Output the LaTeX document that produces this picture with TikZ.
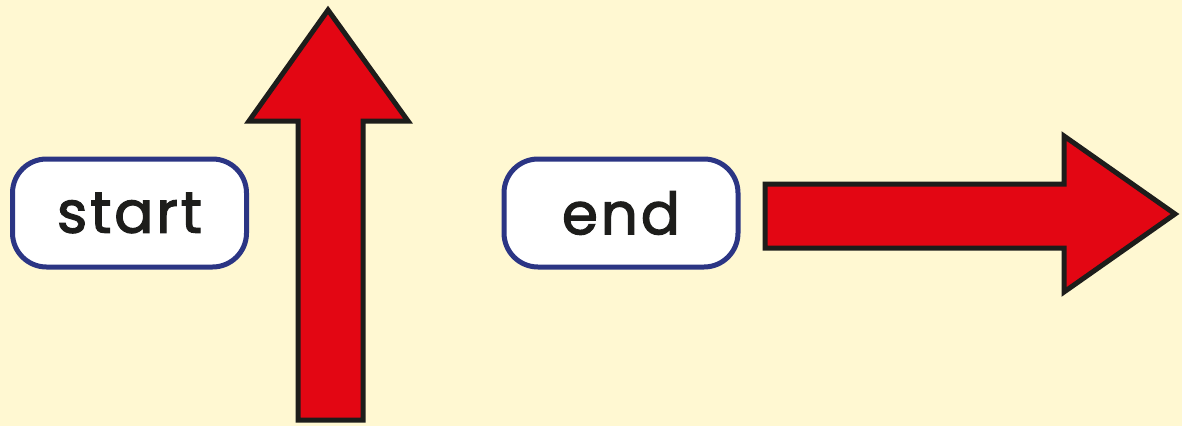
\documentclass[tikz,border=0pt]{standalone}
\usepackage{fontspec}
\setmainfont{Poppins}
\newfontfamily\labelfont[FakeBold=2.2,LetterSpace=5]{Poppins}
\definecolor{bg}{HTML}{FFF8D2}
\definecolor{arrowred}{HTML}{E30613}
\definecolor{outline}{HTML}{1D1D1B}
\definecolor{boxblue}{HTML}{2B3584}
\begin{document}
\begin{tikzpicture}[x=1pt,y=-1pt,
  label box/.style={draw=boxblue, line width=5pt, fill=white, rounded corners=34pt,
    minimum width=234pt, minimum height=108pt, inner sep=0pt, font=\labelfont\fontsize{58}{64}\selectfont, text=outline},
  block arrow/.style={draw=outline, fill=arrowred, line width=5pt, line join=miter}]
\fill[bg] (0,0) rectangle (1182,426);
\useasboundingbox (0,0) rectangle (1182,426);
\node[label box] (start) at (129.5,213) {start};
\node[label box] (end) at (621,213) {end};
\draw[block arrow] (298,420) -- (298,121) -- (249,121) -- (328,10) -- (408,121) -- (363,121) -- (363,420) -- cycle;
\draw[block arrow] (765,184) -- (1064,184) -- (1064,136) -- (1175,214) -- (1064,292) -- (1064,248) -- (765,248) -- cycle;
\end{tikzpicture}
\end{document}
